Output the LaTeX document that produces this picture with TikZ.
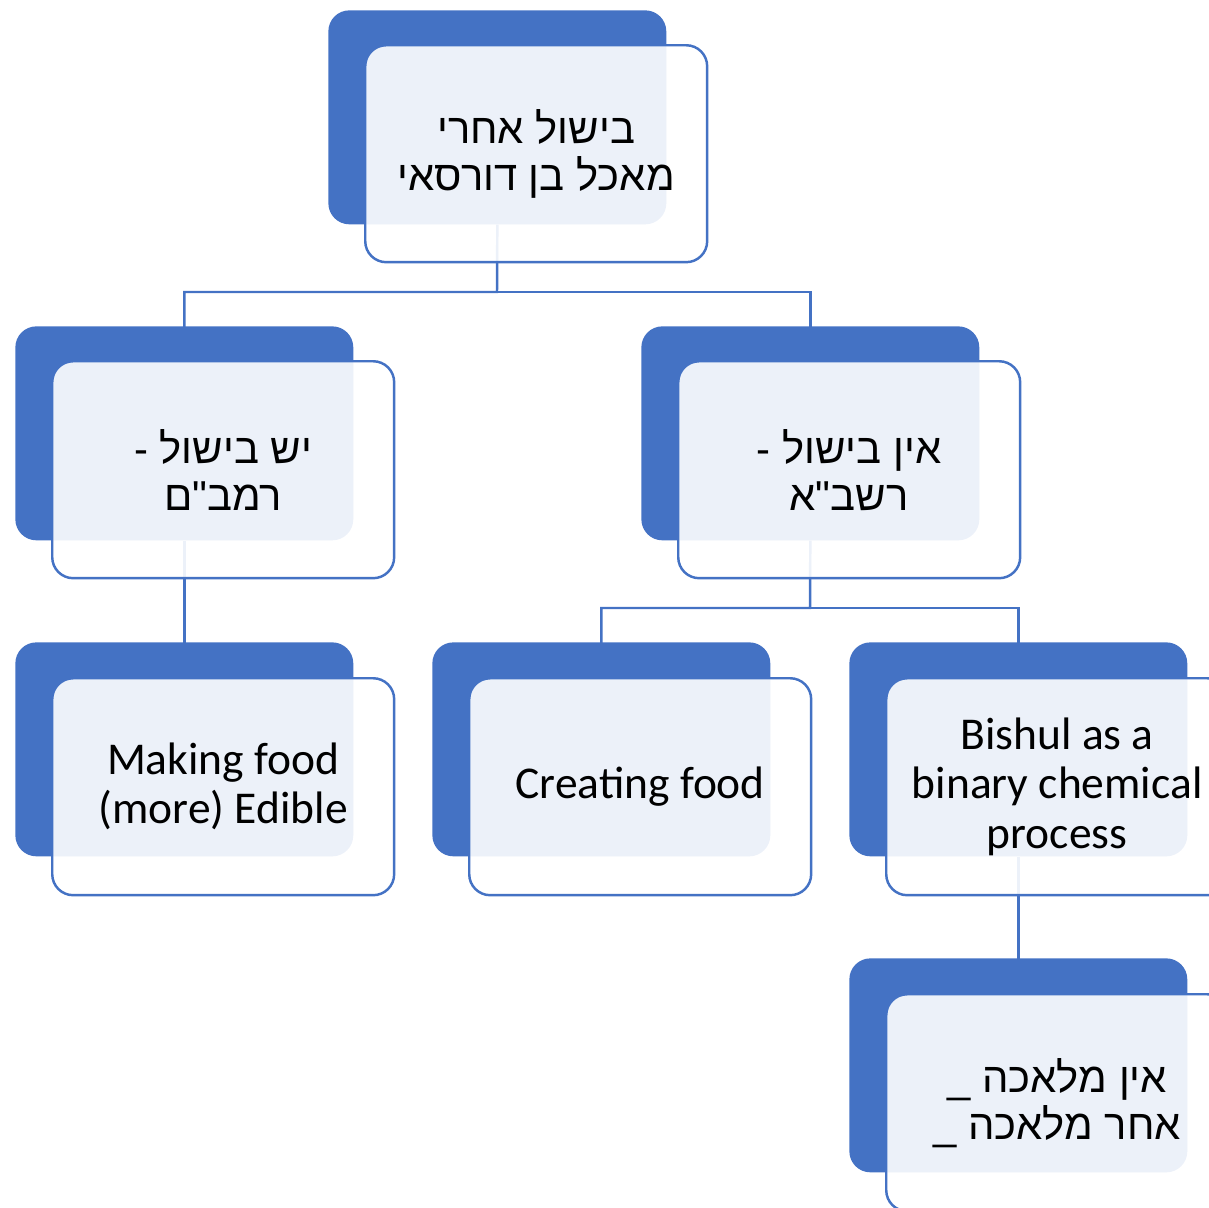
\documentclass[tikz,border=0pt]{standalone}
\usepackage{fontspec}
\setmainfont{Carlito}
\newfontfamily\heb[Script=Hebrew,Ligatures=TeXOff]{Liberation Sans}
\TeXXeTstate=1
\usetikzlibrary{backgrounds}
\definecolor{acc}{HTML}{4472C4}
\tikzset{
  backbox/.style={fill=acc, rounded corners=0.42cm, minimum width=6.76cm, minimum height=4.28cm, anchor=north west, inner sep=0pt},
  frontbox/.style={fill=white, fill opacity=0.9, text opacity=1, draw=acc, line width=1.4pt, rounded corners=0.42cm, minimum width=6.84cm, minimum height=4.34cm, anchor=north west, inner sep=0pt, align=center},
  entxt/.style={font=\fontsize{25.9pt}{28pt}\selectfont},
  hetxt/.style={font=\heb\fontsize{23.8pt}{26.8pt}\selectfont},
  link/.style={draw=acc, line width=1.4pt}
}
\begin{document}
\begin{tikzpicture}[x=0.02cm,y=-0.02cm]
\useasboundingbox (0,0) rectangle (1209,1207);
\clip (0,0) rectangle (1209,1207);
% back boxes
\node[backbox] (rb) at (328,10) {};
\node[backbox] (lb) at (15,326) {};
\node[backbox] (mb) at (641,326) {};
\node[backbox] (eb) at (15,642) {};
\node[backbox] (cb) at (432,642) {};
\node[backbox] (bb) at (849,642) {};
\node[backbox] (wb) at (849,958) {};
% connectors (below front boxes)
\coordinate (j1) at (497,292);
\coordinate (j2) at (810,608);
\draw[link] (rb.south) -- (j1) -| ([yshift=-4]lb.north);
\draw[link] (j1) -| ([yshift=-4]mb.north);
\draw[link] (lb.south) -- ([yshift=-4]eb.north);
\draw[link] (mb.south) -- (j2) -| ([yshift=-4]cb.north);
\draw[link] (j2) -| ([yshift=-4]bb.north);
\draw[link] (bb.south) -- ([yshift=-4]wb.north);
% front boxes
\node[frontbox, hetxt] (r) at (364,44) {\beginR בישול אחרי\endR\\\beginR מאכל בן דורסאי\endR};
\node[frontbox, hetxt] (l) at (51,360) {\beginR יש בישול -\endR\\\beginR רמב"ם\endR};
\node[frontbox, hetxt] (m) at (677,360) {\beginR אין בישול -\endR\\\beginR רשב"א\endR};
\node[frontbox, entxt] (e) at (51,677) {Making food\\(more) Edible};
\node[frontbox, entxt] (c) at (468,677) {Creating food};
\node[frontbox, entxt] (b) at (885,677) {Bishul as a\\binary chemical\\process};
\node[frontbox, hetxt] (w) at (885,993) {\beginR אין מלאכה \_\endR\\\beginR אחר מלאכה \_\endR};
\end{tikzpicture}
\end{document}
